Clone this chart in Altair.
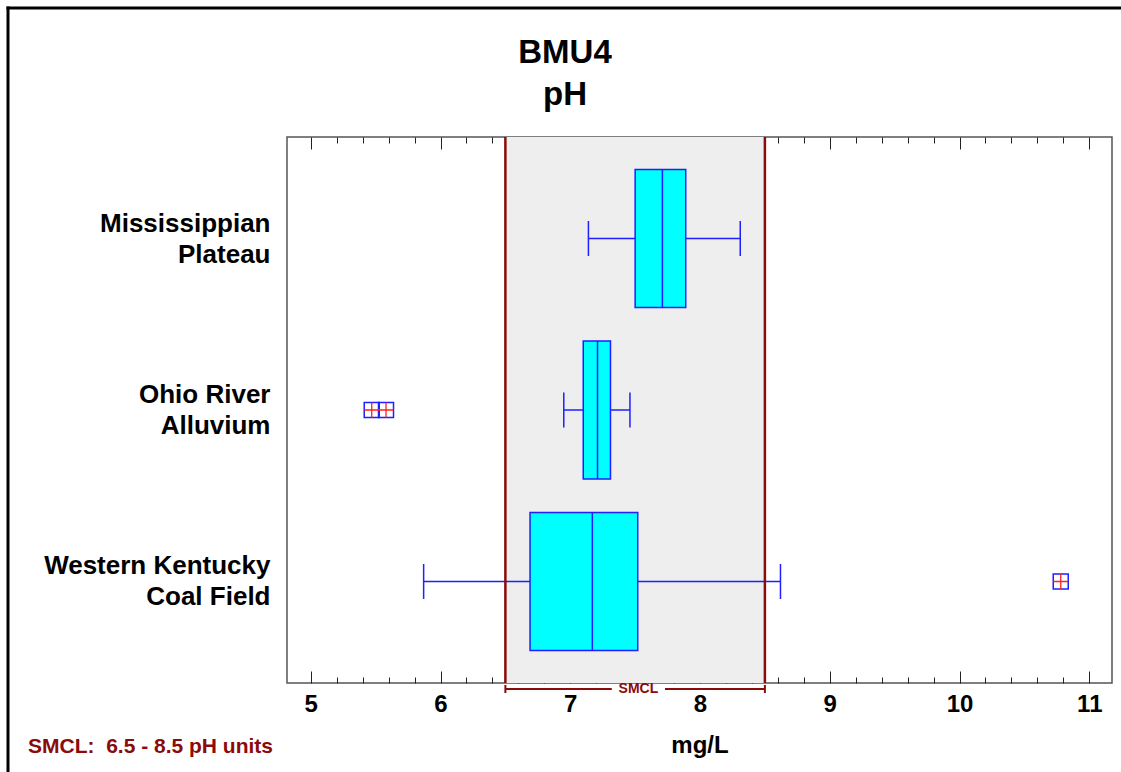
import altair as alt
import pandas as pd

# ---- data -------------------------------------------------------------
groups = ["Mississippian|Plateau", "Ohio River|Alluvium", "Western Kentucky|Coal Field"]
whisker_low = [7.14, 6.95, 5.87]
quartile_1 = [7.50, 7.10, 6.69]
medians = [7.71, 7.21, 7.17]
quartile_3 = [7.89, 7.31, 7.52]
whisker_high = [8.31, 7.46, 8.62]

outlier_groups = ["Ohio River|Alluvium", "Ohio River|Alluvium", "Western Kentucky|Coal Field"]
outlier_values = [5.47, 5.58, 10.78]

smcl_range = [6.5, 8.5]
smcl_gap = [7.32, 7.73]
footnote = ["SMCL:\u00a0 6.5 - 8.5 pH units"]
title_lines = ["BMU4", "pH"]

major_ticks = [5, 6, 7, 8, 9, 10, 11]
minor_ticks = [5.2, 5.4, 5.6, 5.8, 6.2, 6.4, 6.6, 6.8, 7.2, 7.4, 7.6, 7.8,
               8.2, 8.4, 8.6, 8.8, 9.2, 9.4, 9.6, 9.8, 10.2, 10.4, 10.6, 10.8]
x_domain = [4.817, 11.175]

# ---- styling ----------------------------------------------------------
FONT = "Liberation Sans"
BLUE = "#1f1fff"
DARK_RED = "#8b0a0a"
W, H = 825, 546

stats = pd.DataFrame({"group": groups, "lo": whisker_low, "q1": quartile_1,
                      "med": medians, "q3": quartile_3, "hi": whisker_high})
caps = pd.DataFrame({"group": groups * 2, "value": whisker_low + whisker_high})
outliers = pd.DataFrame({"group": outlier_groups, "value": outlier_values})
smcl_band = pd.DataFrame({"lo": [smcl_range[0]], "hi": [smcl_range[1]]})
smcl_lines = pd.DataFrame({"value": smcl_range})
bracket = pd.DataFrame({"start": [smcl_range[0], smcl_gap[1]],
                        "end": [smcl_gap[0], smcl_range[1]]})
bracket_label = pd.DataFrame({"value": [sum(smcl_gap) / 2], "text": ["SMCL"]})
note = pd.DataFrame({"text": footnote})
single = pd.DataFrame({"k": [0]})

xscale = alt.Scale(domain=x_domain, nice=False, zero=False)
yscale = alt.Scale(domain=groups, paddingInner=0, paddingOuter=0.092)


def tick_axis(orient, values, size):
    # ticks drawn inward from the frame edge
    return alt.Axis(orient=orient, offset=-H, values=values, tickSize=size,
                    labels=False, domain=False, grid=False, title=None,
                    tickColor="#222222", tickWidth=1)


main_axis = alt.Axis(orient="bottom", values=major_ticks, ticks=False, domain=False,
                     grid=False, format="d", labelFont=FONT, labelFontSize=24,
                     labelFontWeight="bold", labelColor="black", labelPadding=9,
                     title="mg/L", titleFont=FONT, titleFontSize=24,
                     titleFontWeight="bold", titleColor="black", titlePadding=17)

y_axis = alt.Axis(orient="left", ticks=False, domain=False, grid=False,
                  labelFont=FONT, labelFontSize=26, labelFontWeight="bold",
                  labelColor="black", labelPadding=17, labelLimit=400,
                  labelLineHeight=31, labelOffset=-15,
                  labelExpr="split(datum.label, '|')", title=None)

y_plain = alt.Y("group:N", scale=yscale, axis=None)

band = alt.Chart(smcl_band).mark_rect(color="#eeeeee").encode(
    x=alt.X("lo:Q", scale=xscale, axis=main_axis), x2="hi:Q")

whiskers = alt.Chart(stats).mark_rule(color=BLUE, strokeWidth=1.3).encode(
    x=alt.X("lo:Q", scale=xscale, axis=tick_axis("bottom", minor_ticks, 6)),
    x2="hi:Q", y=y_plain)

smcl_rules = alt.Chart(smcl_lines).mark_rule(color=DARK_RED, strokeWidth=2.5).encode(
    x=alt.X("value:Q", scale=xscale, axis=tick_axis("bottom", major_ticks, 12)))

boxes = alt.Chart(stats).mark_bar(size=138, fill="#00ffff", stroke=BLUE,
                                  strokeWidth=1.5).encode(
    x=alt.X("q1:Q", scale=xscale, axis=tick_axis("top", major_ticks, 12)),
    x2="q3:Q", y=alt.Y("group:N", scale=yscale, axis=y_axis))

median_marks = alt.Chart(stats).mark_tick(size=138, thickness=1.5, color=BLUE,
                                          opacity=1).encode(
    x=alt.X("med:Q", scale=xscale, axis=tick_axis("top", minor_ticks, 6)), y=y_plain)

cap_marks = alt.Chart(caps).mark_tick(size=35, thickness=1.5, color=BLUE,
                                      opacity=1).encode(
    x=alt.X("value:Q", scale=xscale, axis=None), y=y_plain)

outlier_boxes = alt.Chart(outliers).mark_point(shape="square", size=225, filled=False,
                                               stroke=BLUE, strokeWidth=1.5,
                                               opacity=1).encode(
    x=alt.X("value:Q", scale=xscale, axis=None), y=y_plain)

outlier_cross = alt.Chart(outliers).mark_point(shape="M-1,0L1,0M0,-1L0,1", size=225,
                                               filled=False, stroke="#ff2020",
                                               strokeWidth=1.3, opacity=1).encode(
    x=alt.X("value:Q", scale=xscale, axis=None), y=y_plain)

bracket_rules = alt.Chart(bracket).mark_rule(color=DARK_RED, strokeWidth=2).encode(
    x=alt.X("start:Q", scale=xscale, axis=None), x2="end:Q", y=alt.value(H + 6))

bracket_caps = alt.Chart(smcl_lines).mark_rule(color=DARK_RED, strokeWidth=2).encode(
    x=alt.X("value:Q", scale=xscale, axis=None), y=alt.value(H + 2), y2=alt.value(H + 10))

bracket_text = alt.Chart(bracket_label).mark_text(
    font="Liberation Sans Narrow, Liberation Sans", fontSize=14, fontWeight="bold",
    color=DARK_RED, align="center", baseline="middle").encode(
    x=alt.X("value:Q", scale=xscale, axis=None), y=alt.value(H + 6), text="text:N")

note_text = alt.Chart(note).mark_text(
    font=FONT, fontSize=21, fontWeight="bold", color=DARK_RED,
    align="left", baseline="alphabetic").encode(
    x=alt.value(-259), y=alt.value(H + 70), text="text:N")

title_text = alt.Chart(single).mark_text(
    font=FONT, fontSize=33, fontWeight="bold", color="black",
    align="center", baseline="alphabetic", lineHeight=42).encode(
    x=alt.value(278), y=alt.value(-74), text=alt.value(title_lines))

frame_left = alt.Chart(single).mark_rule(color="black", strokeWidth=3).encode(
    x=alt.value(-279), y=alt.value(-130.5), y2=alt.value(H + 89))
frame_top = alt.Chart(single).mark_rule(color="black", strokeWidth=3).encode(
    x=alt.value(-280.5), x2=alt.value(W + 9), y=alt.value(-129))

chart = alt.layer(
    band, whiskers, smcl_rules, boxes, median_marks, cap_marks,
    outlier_boxes, outlier_cross, bracket_rules, bracket_caps, bracket_text,
    note_text, title_text, frame_left, frame_top,
).resolve_axis(x="independent", y="independent").properties(
    width=W, height=H,
    autosize=alt.AutoSizeParams(type="none"),
    padding={"left": 287, "top": 137, "right": 9, "bottom": 89},
).configure(background="white").configure_view(stroke="#555555", strokeWidth=1.5)

chart.save("out.html", embed_options={"renderer": "svg", "actions": False})
